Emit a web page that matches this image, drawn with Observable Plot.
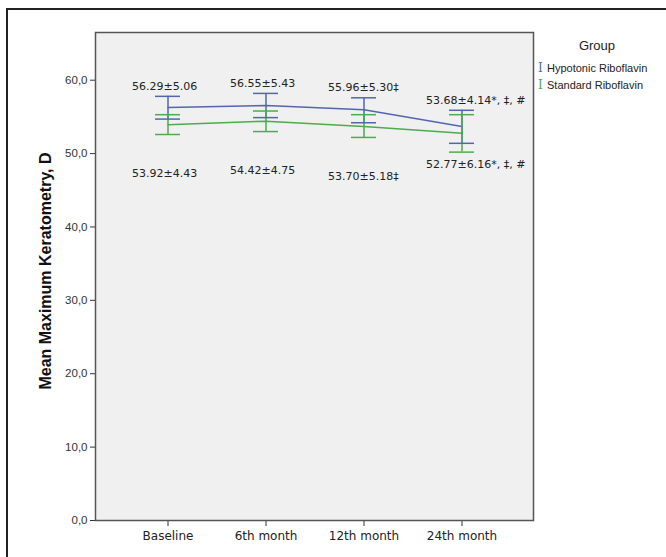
<!DOCTYPE html>
<html>
<head>
<meta charset="utf-8">
<script src="https://cdn.jsdelivr.net/npm/d3@7"></script>
<script src="https://cdn.jsdelivr.net/npm/@observablehq/plot@0.6"></script>
<style>
  html, body { margin: 0; padding: 0; background: #fff; }
  #wrap { position: relative; width: 666px; height: 557px; overflow: hidden; }
  #outer { position: absolute; left: 6px; top: 8px; width: 700px; height: 600px;
           border-left: 2px solid #222; border-top: 2px solid #222; box-sizing: border-box; }
  #chart { position: absolute; left: 0; top: 0; }
  #ylabel { position: absolute; left: 46px; top: 271px; transform: translate(-50%, -50%) rotate(-90deg);
            white-space: nowrap; font: bold 16px "Liberation Sans", Arial, sans-serif; color: #111; }
  #legend { position: absolute; left: 538px; top: 38px; font: 11px "Liberation Sans", Arial, sans-serif; color: #222; }
  #legend .title { font-size: 13px; text-align: center; width: 118px; margin-bottom: 6px; line-height: 16px; }
  #legend .row { height: 17px; line-height: 17px; white-space: nowrap; }
  #legend .sw { display: inline-block; width: 9px; font-family: "DejaVu Serif", serif; font-size: 12px; }
</style>
</head>
<body>
<div id="wrap">
  <div id="outer"></div>
  <div id="chart"></div>
  <div id="ylabel">Mean Maximum Keratometry, D</div>
  <div id="legend"></div>
</div>
<script>
const timepoints = ["Baseline", "6th month", "12th month", "24th month"];
const groups = ["Hypotonic Riboflavin", "Standard Riboflavin"];
const colors = ["#5266b0", "#4aae4a"];

const hypoMean = [56.29, 56.55, 55.96, 53.68];
const hypoLow  = [54.7, 54.9, 54.2, 51.4];
const hypoHigh = [57.8, 58.2, 57.6, 55.9];
const hypoLabels = ["56.29±5.06", "56.55±5.43", "55.96±5.30‡", "53.68±4.14*, ‡, #"];

const stdMean = [53.92, 54.42, 53.70, 52.77];
const stdLow  = [52.6, 53.0, 52.2, 50.2];
const stdHigh = [55.3, 55.8, 55.3, 55.3];
const stdLabels = ["53.92±4.43", "54.42±4.75", "53.70±5.18‡", "52.77±6.16*, ‡, #"];

const yTicks = [0, 10, 20, 30, 40, 50, 60];

const hypo = timepoints.map((t, i) => ({time: t, group: groups[0], mean: hypoMean[i], low: hypoLow[i], high: hypoHigh[i], label: hypoLabels[i], i}));
const std = timepoints.map((t, i) => ({time: t, group: groups[1], mean: stdMean[i], low: stdLow[i], high: stdHigh[i], label: stdLabels[i], i}));
const all = hypo.concat(std);

const labelFont = {fontFamily: "DejaVu Sans, Verdana, sans-serif", fontSize: 11, fill: "#222"};

const chart = Plot.plot({
  width: 666,
  height: 557,
  marginLeft: 95,
  marginRight: 133,
  marginTop: 32,
  marginBottom: 37,
  style: {background: "transparent", fontFamily: "Liberation Sans, Arial, sans-serif"},
  x: {type: "band", domain: timepoints, paddingInner: 0.747, paddingOuter: 0.586, label: null},
  y: {domain: [0, 66.5], label: null},
  color: {domain: groups, range: colors},
  marks: [
    Plot.frame({fill: "#f0f0f0", stroke: null}),
    Plot.axisX({tickSize: 6, tickPadding: 5, fontSize: 12, fontFamily: "DejaVu Sans, sans-serif", fill: "#222", stroke: "#333", label: null}),
    Plot.axisY({ticks: yTicks, tickSize: 5, tickPadding: 3, fontSize: 11.5, fill: "#333", stroke: "#333",
                tickFormat: d => d.toFixed(1).replace(".", ","), label: null}),
    Plot.line(all, {x: "time", y: "mean", z: "group", stroke: "group", strokeWidth: 1.5}),
    Plot.ruleX(all, {x: "time", y1: "low", y2: "high", stroke: "group", strokeWidth: 1.5}),
    Plot.tickY(all, {x: "time", y: "low", stroke: "group", strokeWidth: 1.5}),
    Plot.tickY(all, {x: "time", y: "high", stroke: "group", strokeWidth: 1.5}),
    Plot.text(hypo, {x: "time", y: "high", text: "label", textAnchor: "start", dx: -36, dy: -10, ...labelFont}),
    Plot.text(std.filter(d => d.i < 3), {x: "time", y: "low", text: "label", textAnchor: "start", dx: -36, dy: 39, ...labelFont}),
    Plot.text(std.filter(d => d.i === 3), {x: "time", y: "low", text: "label", textAnchor: "start", dx: -36, dy: 12, ...labelFont}),
    Plot.frame({stroke: "#555", strokeWidth: 1.5})
  ]
});
document.getElementById("chart").appendChild(chart);

const legend = document.getElementById("legend");
legend.innerHTML = `<div class="title">Group</div>` + groups.map((g, i) =>
  `<div class="row"><span class="sw" style="color:${colors[i]}">I</span>${g}</div>`).join("");
</script>
</body>
</html>
